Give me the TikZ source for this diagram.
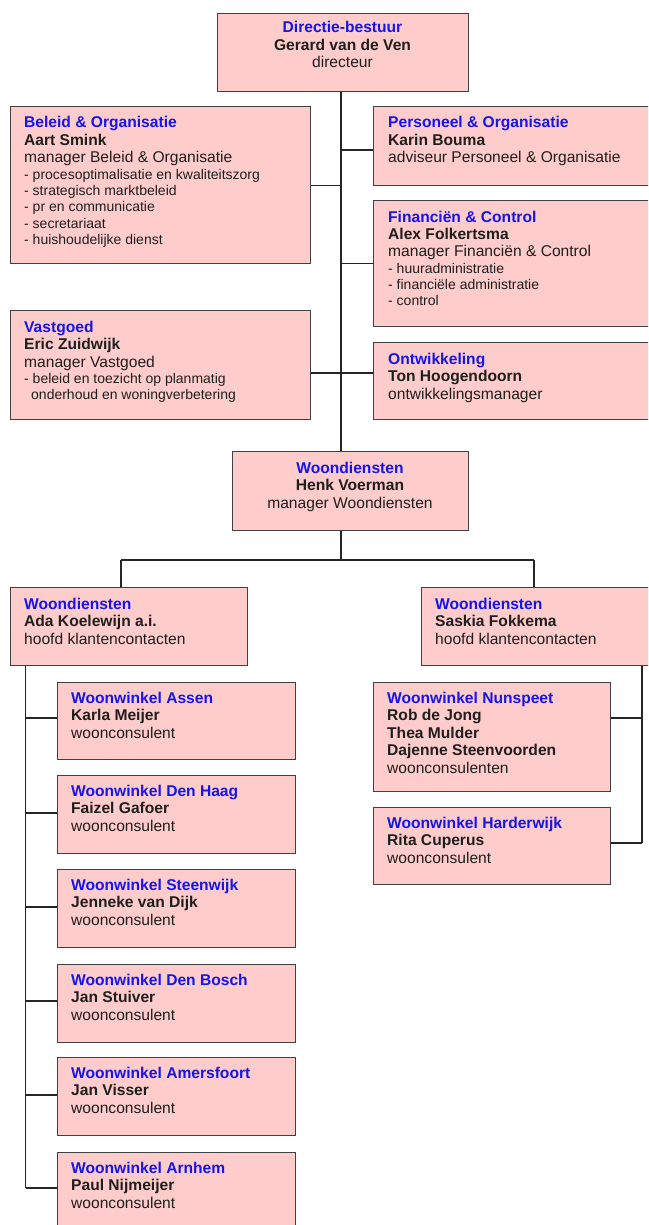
\documentclass[tikz,border=0pt]{standalone}
\usepackage{fontspec}
\setmainfont{Liberation Sans}
\definecolor{boxfill}{RGB}{255,204,204}
\definecolor{boxline}{RGB}{64,64,64}
\definecolor{ttlblue}{RGB}{20,20,235}
\definecolor{txtgray}{RGB}{30,30,30}
\newcommand\mainsz{\fontsize{15.6}{17.5}\selectfont}
\newcommand\bulsz{\fontsize{14}{16.3}\selectfont}
\newcommand\ttl[1]{{\color{ttlblue}\bfseries #1}}
\newcommand\nm[1]{{\bfseries #1}}
\newcommand\lt[1]{\parbox[t]{300pt}{\raggedright\mainsz\leavevmode #1}}
\newcommand\ct[1]{\parbox[t]{240pt}{\centering\mainsz\leavevmode #1}}
\tikzset{
  orgbox/.style={draw=boxline, fill=boxfill, line width=1.3pt, rectangle, inner sep=0pt, anchor=north west},
  ltxt/.style={anchor=base west, inner sep=0pt, text=txtgray},
  ctxt/.style={anchor=base, inner sep=0pt, text=txtgray},
  conn/.style={draw=black!85, line width=1.1pt}
}
\begin{document}
\begin{tikzpicture}[x=1pt,y=-1pt]
\useasboundingbox (0,0) rectangle (648,1225);
\clip (0,0) rectangle (648,1225);
% boxes
\node[orgbox,minimum width=251pt,minimum height=78pt] (dir) at (217,13) {};
\node[orgbox,minimum width=300pt,minimum height=157pt] (bel) at (10,106) {};
\node[orgbox,minimum width=282pt,minimum height=79pt] (per) at (373,106) {};
\node[orgbox,minimum width=282pt,minimum height=126pt] (fin) at (373,200) {};
\node[orgbox,minimum width=300pt,minimum height=109pt] (vas) at (10,310) {};
\node[orgbox,minimum width=282pt,minimum height=77pt] (ont) at (373,342) {};
\node[orgbox,minimum width=236pt,minimum height=79pt] (woo) at (232,451) {};
\node[orgbox,minimum width=237pt,minimum height=78pt] (ada) at (10,587) {};
\node[orgbox,minimum width=231pt,minimum height=78pt] (sas) at (421,587) {};
\node[orgbox,minimum width=238pt,minimum height=77pt] (assen) at (57,682) {};
\node[orgbox,minimum width=238pt,minimum height=78pt] (haag) at (57,775) {};
\node[orgbox,minimum width=238pt,minimum height=78pt] (steen) at (57,869) {};
\node[orgbox,minimum width=238pt,minimum height=78pt] (bosch) at (57,964) {};
\node[orgbox,minimum width=238pt,minimum height=78pt] (amers) at (57,1057) {};
\node[orgbox,minimum width=238pt,minimum height=90pt] (arn) at (57,1152) {};
\node[orgbox,minimum width=237pt,minimum height=109pt] (nun) at (373,682) {};
\node[orgbox,minimum width=237pt,minimum height=77pt] (hard) at (373,807) {};
% texts
\node[ctxt] (dirT) at (342.5,33) {\ct{\ttl{Directie-bestuur}\par\nm{Gerard van de Ven}\par directeur}};
\node[ltxt] (belT) at (24,128) {\lt{\ttl{Beleid \& Organisatie}\par\nm{Aart Smink}\par manager Beleid \& Organisatie\par
  \bulsz - procesoptimalisatie en kwaliteitszorg\par - strategisch marktbeleid\par - pr en communicatie\par - secretariaat\par - huishoudelijke dienst}};
\node[ltxt] (perT) at (388,128) {\lt{\ttl{Personeel \& Organisatie}\par\nm{Karin Bouma}\par adviseur Personeel \& Organisatie}};
\node[ltxt] (finT) at (388,222) {\lt{\ttl{Financiën \& Control}\par\nm{Alex Folkertsma}\par manager Financiën \& Control\par
  \bulsz - huuradministratie\par - financiële administratie\par - control}};
\node[ltxt] (vasT) at (24,332) {\lt{\ttl{Vastgoed}\par\nm{Eric Zuidwijk}\par manager Vastgoed\par
  \bulsz - beleid en toezicht op planmatig\par \hspace*{7pt}onderhoud en woningverbetering}};
\node[ltxt] (ontT) at (388,364) {\lt{\ttl{Ontwikkeling}\par\nm{Ton Hoogendoorn}\par ontwikkelingsmanager}};
\node[ctxt] (wooT) at (350,473) {\ct{\ttl{Woondiensten}\par\nm{Henk Voerman}\par manager Woondiensten}};
\node[ltxt] (adaT) at (24,609) {\lt{\ttl{Woondiensten}\par\nm{Ada Koelewijn a.i.}\par hoofd klantencontacten}};
\node[ltxt] (sasT) at (435,609) {\lt{\ttl{Woondiensten}\par\nm{Saskia Fokkema}\par hoofd klantencontacten}};
\node[ltxt] (assenT) at (71,703) {\lt{\ttl{Woonwinkel Assen}\par\nm{Karla Meijer}\par woonconsulent}};
\node[ltxt] (haagT) at (71,796) {\lt{\ttl{Woonwinkel Den Haag}\par\nm{Faizel Gafoer}\par woonconsulent}};
\node[ltxt] (steenT) at (71,890) {\lt{\ttl{Woonwinkel Steenwijk}\par\nm{Jenneke van Dijk}\par woonconsulent}};
\node[ltxt] (boschT) at (71,985) {\lt{\ttl{Woonwinkel Den Bosch}\par\nm{Jan Stuiver}\par woonconsulent}};
\node[ltxt] (amersT) at (71,1078) {\lt{\ttl{Woonwinkel Amersfoort}\par\nm{Jan Visser}\par woonconsulent}};
\node[ltxt] (arnT) at (71,1173) {\lt{\ttl{Woonwinkel Arnhem}\par\nm{Paul Nijmeijer}\par woonconsulent}};
\node[ltxt] (nunT) at (387,703) {\lt{\ttl{Woonwinkel Nunspeet}\par\nm{Rob de Jong}\par\nm{Thea Mulder}\par\nm{Dajenne Steenvoorden}\par woonconsulenten}};
\node[ltxt] (hardT) at (387,828) {\lt{\ttl{Woonwinkel Harderwijk}\par\nm{Rita Cuperus}\par woonconsulent}};
% connectors
\coordinate (tx) at (341,0);
\draw[conn] (dir.south -| tx) -- (woo.north -| tx);
\draw[conn] (bel.east) -- (bel.east -| tx);
\draw[conn] (per.west |- 0,150) -- (tx |- 0,150);
\draw[conn] (fin.west) -- (fin.west -| tx);
\draw[conn] (vas.east |- 0,373) -- (ont.west |- 0,373);
\coordinate (bl) at (121,560);
\coordinate (br) at (534,560);
\draw[conn] (woo.south -| tx) -- (tx |- bl);
\draw[conn] (bl) -- (br);
\draw[conn] (bl) -- (ada.north -| bl);
\draw[conn] (br) -- (sas.north -| br);
\coordinate (L) at (25.6,0);
\draw[conn] (ada.south -| L) -- (L |- 0,1188);
\foreach \n/\y in {assen/718,haag/813,steen/907,bosch/1001,amers/1095,arn/1188}
  \draw[conn] (L |- 0,\y) -- (\n.west |- 0,\y);
\coordinate (R) at (642,0);
\draw[conn] (sas.south -| R) -- (R |- 0,843);
\draw[conn] (R |- 0,718) -- (nun.east |- 0,718);
\draw[conn] (R |- 0,843) -- (hard.east |- 0,843);
\end{tikzpicture}
\end{document}
